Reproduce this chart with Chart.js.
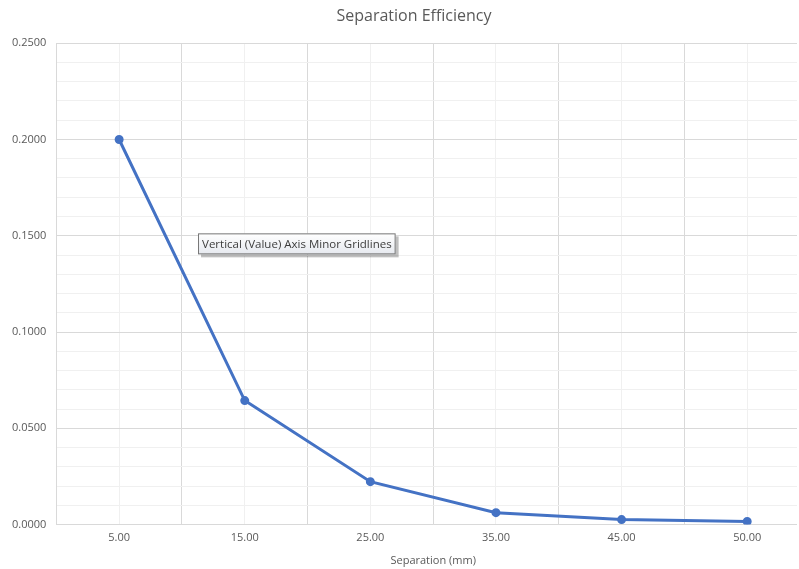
<!DOCTYPE html>
<html>
<head>
<meta charset="utf-8">
<script src="https://cdn.jsdelivr.net/npm/chart.js@4.4.1/dist/chart.umd.min.js"></script>
<style>
  html, body { margin: 0; padding: 0; background: #fff; overflow: hidden; }
  #frame { width: 797px; height: 569px; overflow: hidden; }
  #wrap { width: 828px; height: 569px; }
</style>
</head>
<body>
<div id="frame"><div id="wrap"><canvas id="effChart"></canvas></div></div>
<script>
const separation = ['5.00', '15.00', '25.00', '35.00', '45.00', '50.00'];
const efficiency = [0.2000, 0.0644, 0.0223, 0.0062, 0.0026, 0.0016];
const yTicksMajor = 0.05;

const FONT = "'Open Sans', 'Liberation Sans', sans-serif";

// title sits a bit right of the plot centre in the original
const titleNudge = {
    id: 'titleNudge',
    afterLayout(chart) {
        if (chart.titleBlock) chart.titleBlock.left += 16;
    }
};

// hover box left over in the screenshot
const hoverBox = {
    id: 'hoverBox',
    afterDraw(chart) {
        const c = chart.ctx;
        const a = chart.chartArea;
        const text = 'Vertical (Value) Axis Minor Gridlines';
        c.save();
        c.font = '11.5px ' + FONT;
        const w = c.measureText(text).width + 8;
        const h = 21;
        const x = a.left + (a.right - a.left) * 0.188;
        const y = a.top + (a.bottom - a.top) * 0.395;
        c.fillStyle = 'rgba(0,0,0,0.25)';
        c.fillRect(x + 3, y + 3, w, h);
        const g = c.createLinearGradient(0, y, 0, y + h);
        g.addColorStop(0, '#ffffff');
        g.addColorStop(1, '#e6e9ef');
        c.fillStyle = g;
        c.fillRect(x, y, w, h);
        c.strokeStyle = '#767676';
        c.lineWidth = 1;
        c.strokeRect(x + 0.5, y + 0.5, w - 1, h - 1);
        c.fillStyle = '#3c3c3c';
        c.textBaseline = 'middle';
        c.fillText(text, x + 4, y + h / 2 + 0.5);
        c.restore();
    }
};

const ctx = document.getElementById('effChart');

const chartData = {
    labels: separation,
    datasets: [{
        label: 'Separation Efficiency',
        data: efficiency,
        borderColor: '#4472C4',
        backgroundColor: '#4472C4',
        borderWidth: 3,
        pointRadius: 3,
        pointHoverRadius: 3,
        fill: false,
        tension: 0
    }]
};

const config = {
    type: 'line',
    data: chartData,
    options: {
        responsive: true,
        maintainAspectRatio: false,
        animation: false,
        layout: { padding: { left: 2, right: 18, top: 4, bottom: 2 } },
        plugins: {
            legend: { display: false },
            tooltip: { enabled: false },
            title: {
                display: true,
                text: 'Separation Efficiency',
                color: '#595959',
                font: { family: FONT, size: 16, weight: 'normal' },
                padding: { top: 3, bottom: 17 }
            }
        },
        scales: {
            xMinor: {
                type: 'category',
                position: 'bottom',
                offset: true,
                ticks: { display: false },
                border: { display: false },
                grid: { offset: false, color: '#f0f0f0', drawTicks: false, z: -1 }
            },
            x: {
                type: 'category',
                position: 'bottom',
                offset: true,
                grid: { offset: true, color: '#d9d9d9', drawTicks: false },
                border: { display: true, color: '#d9d9d9' },
                ticks: { color: '#595959', font: { family: FONT, size: 11 }, padding: 7, maxRotation: 0 },
                title: {
                    display: true,
                    text: 'Separation (mm)',
                    color: '#595959',
                    font: { family: FONT, size: 11 },
                    padding: { top: 2, bottom: 0 }
                }
            },
            y: {
                min: 0,
                max: 0.25,
                ticks: {
                    stepSize: 0.01,
                    color: '#595959',
                    font: { family: FONT, size: 11 },
                    padding: 10,
                    callback: function(v) {
                        const k = Math.round(v / yTicksMajor);
                        return Math.abs(k * yTicksMajor - v) < 1e-9 ? Number(v).toFixed(4) : '';
                    }
                },
                grid: {
                    drawTicks: false,
                    color: function(c) {
                        const v = c.tick.value;
                        const k = Math.round(v / yTicksMajor);
                        return Math.abs(k * yTicksMajor - v) < 1e-9 ? '#d9d9d9' : '#f0f0f0';
                    }
                },
                border: { display: true, color: '#d9d9d9' }
            }
        }
    },
    plugins: [titleNudge, hoverBox]
};

const effChart = new Chart(ctx, config);
</script>
</body>
</html>
